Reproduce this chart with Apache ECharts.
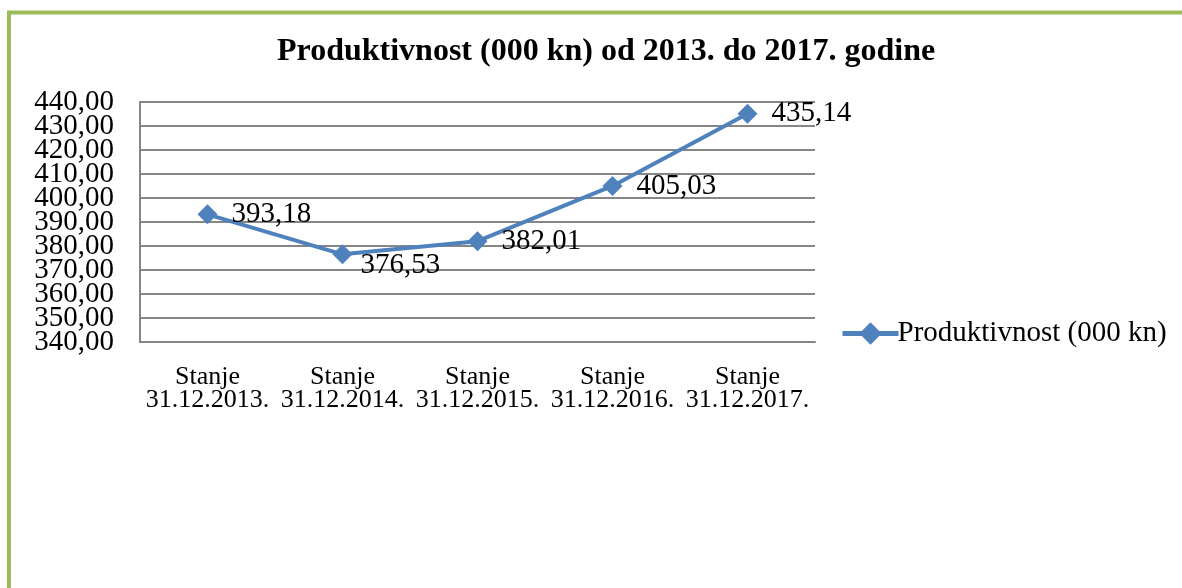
<!DOCTYPE html>
<html>
<head>
<meta charset="utf-8">
<script src="https://cdn.jsdelivr.net/npm/echarts@6/dist/echarts.min.js"></script>
<style>
  html, body { margin: 0; padding: 0; background: #fff; }
  #chart { width: 1182px; height: 588px; }
</style>
</head>
<body>
<div id="chart"></div>
<script>
// podaci
const categories = [
  'Stanje\n31.12.2013.',
  'Stanje\n31.12.2014.',
  'Stanje\n31.12.2015.',
  'Stanje\n31.12.2016.',
  'Stanje\n31.12.2017.'
]
const values = [393.18, 376.53, 382.01, 405.03, 435.14]
const yMin = 340
const yMax = 440
const yStep = 10
const seriesName = 'Produktivnost (000 kn)'
const titleText = 'Produktivnost (000 kn) od 2013. do 2017. godine'

const fmt = (v) => v.toFixed(2).replace('.', ',')
const serif = '"Liberation Serif", "Times New Roman", serif'

const chart = echarts.init(document.getElementById('chart'))

const yLabel = {
  margin: 26,
  fontFamily: serif,
  fontSize: 29,
  lineHeight: 18,
  color: '#000',
  formatter: (v) => fmt(v)
}

const option = {
  backgroundColor: '#fff',
  animation: false,
  title: {
    text: titleText,
    left: 272,
    top: 31,
    textStyle: { fontFamily: serif, fontWeight: 'bold', fontSize: 32, color: '#000' }
  },
  legend: {
    data: [seriesName],
    left: 835,
    top: 314,
    itemWidth: 56,
    itemHeight: 28,
    itemGap: 4,
    lineStyle: { width: 5, color: '#4F81BD' },
    textStyle: { fontFamily: serif, fontSize: 29, color: '#000', padding: [0, 0, 0, -6] }
  },
  grid: { left: 140, top: 102, width: 675, height: 240, containLabel: false },
  xAxis: {
    type: 'category',
    data: categories,
    boundaryGap: true,
    axisLine: { lineStyle: { color: '#868686', width: 2 } },
    axisTick: { show: false },
    axisLabel: {
      interval: 0,
      margin: 24,
      fontFamily: serif,
      fontSize: 26,
      lineHeight: 23,
      color: '#000'
    }
  },
  yAxis: [{
    // unutarnje oznake + mreža
    type: 'value',
    min: yMin,
    max: yMax,
    interval: yStep,
    axisLine: { show: true, lineStyle: { color: '#868686', width: 2 } },
    axisTick: { show: false },
    splitLine: { lineStyle: { color: '#868686', width: 2 } },
    axisLabel: Object.assign({ showMinLabel: false, showMaxLabel: false }, yLabel)
  }, {
    // samo krajnje oznake (340 i 440)
    type: 'value',
    position: 'left',
    min: yMin,
    max: yMax,
    interval: yMax - yMin,
    axisLine: { show: false },
    axisTick: { show: false },
    splitLine: { show: false },
    axisLabel: yLabel
  }],
  series: [{
    name: seriesName,
    type: 'line',
    yAxisIndex: 0,
    data: values.map((v, i) => i === 1
      ? { value: v, label: { offset: [-6, 11] } }
      : v),
    symbol: 'diamond',
    symbolSize: 20,
    lineStyle: { color: '#4F81BD', width: 4 },
    itemStyle: { color: '#4F81BD' },
    label: {
      show: true,
      position: 'right',
      distance: 14,
      fontFamily: serif,
      fontSize: 29,
      color: '#000',
      formatter: (p) => fmt(p.value)
    }
  }],
  graphic: [{
    type: 'rect',
    shape: { x: 9, y: 12.5, width: 1300, height: 700 },
    style: { fill: 'none', stroke: '#9BBB59', lineWidth: 4 },
    silent: true
  }]
}

chart.setOption(option)
window.addEventListener('resize', () => chart.resize())
</script>
</body>
</html>
